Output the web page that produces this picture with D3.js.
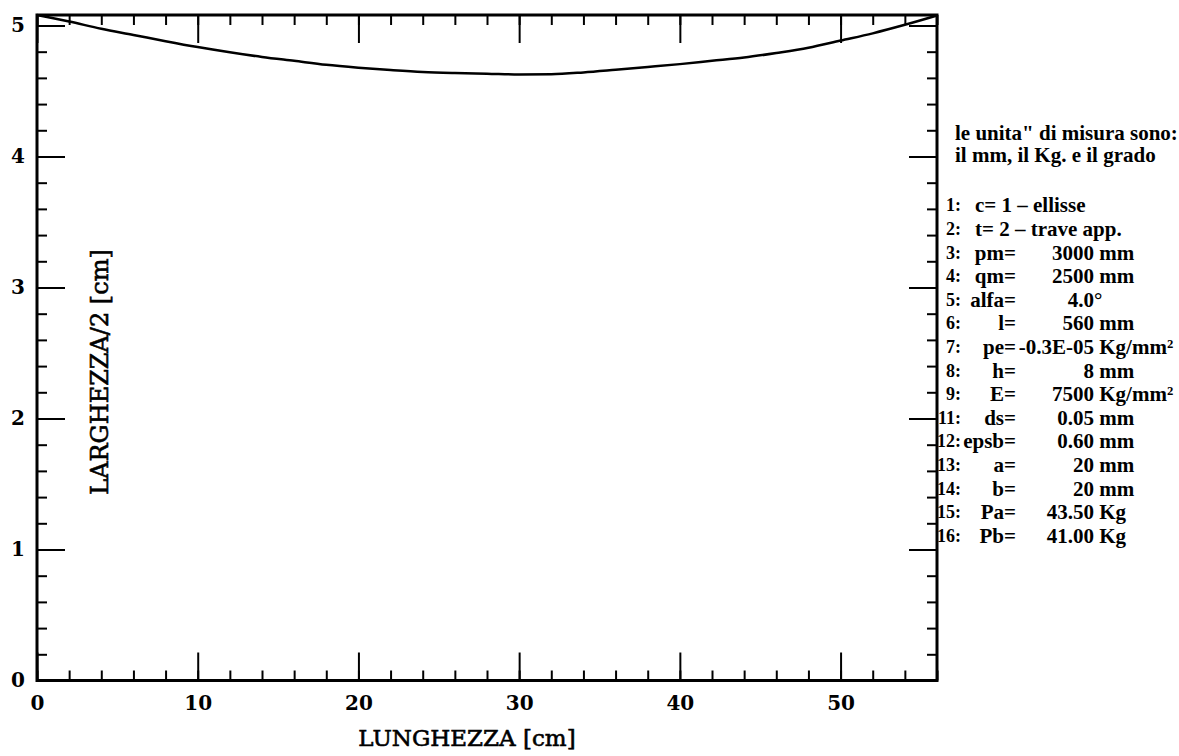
<!DOCTYPE html>
<html>
<head>
<meta charset="utf-8">
<script src="https://cdn.jsdelivr.net/npm/d3@7"></script>
<style>
  body { margin: 0; background: #fff; }
  svg { display: block; }
  .legend text { white-space: pre; }
</style>
</head>
<body>
<div class="canvas"></div>
<script>
// profilo della trave: lunghezza [cm] -> larghezza/2 [cm]
const lunghezza = [0, 2, 4, 6, 8, 10, 12, 14, 16, 18, 20, 22, 24, 26, 28, 30, 32, 34, 36, 38, 40, 42, 44, 46, 48, 50, 52, 54, 56];
const larghezza = [5.08, 5.03, 4.975, 4.928, 4.88, 4.835, 4.795, 4.76, 4.73, 4.70, 4.678, 4.66, 4.645, 4.637, 4.632, 4.626, 4.628, 4.642, 4.662, 4.683, 4.705, 4.73, 4.755, 4.79, 4.83, 4.885, 4.94, 5.005, 5.076];

const xMajorTicks = [0, 10, 20, 30, 40, 50];
const yMajorTicks = [0, 1, 2, 3, 4, 5];
const xMinorStep = 2;
const yMinorStep = 0.2;

const xTitle = "LUNGHEZZA [cm]";
const yTitle = "LARGHEZZA/2 [cm]";

const legendHead = ['le unita" di misura sono:', "il mm, il Kg. e il grado"];
const optionIds = ["1:", "2:"];
const optionTexts = ["c= 1 – ellisse", "t= 2 – trave app."];
const paramIds = ["3:", "4:", "5:", "6:", "7:", "8:", "9:", "11:", "12:", "13:", "14:", "15:", "16:"];
const paramNames = ["pm=", "qm=", "alfa=", "l=", "pe=", "h=", "E=", "ds=", "epsb=", "a=", "b=", "Pa=", "Pb="];
const paramValues = ["3000", "2500", "4.0", "560", "-0.3E-05", "8", "7500", "0.05", "0.60", "20", "20", "43.50", "41.00"];
const paramUnits = [" mm", " mm", "°", " mm", " Kg/mm²", " mm", " Kg/mm²", " mm", " mm", " mm", " mm", " Kg", " Kg"];

const width = 1179;
const height = 756;

const svg = d3
  .select(".canvas")
  .append("svg")
  .attr("width", width)
  .attr("height", height);

const graph = svg.append("g");

const xScale = d3.scaleLinear().domain([0, 56]).range([37, 937]);
const yScale = d3.scaleLinear().domain([0, 5.08]).range([680.5, 15]);

const serif = "'DejaVu Serif', 'Liberation Serif', serif";

function tickAxis(axis, tx, ty, values, size, withLabels) {
  const g = graph
    .append("g")
    .attr("transform", `translate(${tx},${ty})`)
    .call(
      axis
        .tickValues(values)
        .tickSize(size)
        .tickSizeOuter(0)
        .tickPadding(withLabels ? withLabels : 3)
        .tickFormat(withLabels ? d3.format("d") : "")
    );
  g.select(".domain").remove();
  g.selectAll("line").attr("stroke", "black").attr("stroke-width", 2);
  g.selectAll("text")
    .attr("fill", "black")
    .attr("font-family", serif)
    .attr("font-weight", "bold")
    .attr("font-size", 20);
  return g;
}

const xMinor = d3.range(0, 56 + 0.01, xMinorStep);
const yMinor = d3.range(0, 5 + 0.01, yMinorStep);
const x0 = xScale.range()[0];
const x1 = xScale.range()[1];
const y0 = yScale.range()[0];
const y1 = yScale.range()[1];

// minor ticks on all four sides
tickAxis(d3.axisBottom(xScale), 0, y0, xMinor, -10, 0);
tickAxis(d3.axisTop(xScale), 0, y1, xMinor, -10, 0);
tickAxis(d3.axisLeft(yScale), x0, 0, yMinor, -10, 0);
tickAxis(d3.axisRight(yScale), x1, 0, yMinor, -10, 0);

// major ticks (labels only bottom / left)
tickAxis(d3.axisBottom(xScale), 0, y0, xMajorTicks, -28, 15);
tickAxis(d3.axisTop(xScale), 0, y1, xMajorTicks, -28, 0);
tickAxis(d3.axisLeft(yScale), x0, 0, yMajorTicks, -28, 12);
tickAxis(d3.axisRight(yScale), x1, 0, yMajorTicks, -28, 0);

// frame
graph
  .append("rect")
  .attr("x", x0)
  .attr("y", y1)
  .attr("width", x1 - x0)
  .attr("height", y0 - y1)
  .attr("fill", "none")
  .attr("stroke", "black")
  .attr("stroke-width", 3);

// profile curve
const profile = d3
  .line()
  .x((d, i) => xScale(lunghezza[i]))
  .y((d) => yScale(d))
  .curve(d3.curveMonotoneX);

graph
  .append("path")
  .attr("d", profile(larghezza))
  .attr("fill", "none")
  .attr("stroke", "black")
  .attr("stroke-width", 2.5);

// axis titles
graph
  .append("text")
  .text(xTitle)
  .attr("x", 467)
  .attr("y", 746)
  .attr("text-anchor", "middle")
  .attr("font-family", serif)
  .attr("font-size", 23)
  .attr("fill", "black")
  .attr("stroke", "black")
  .attr("stroke-width", 0.6);

graph
  .append("text")
  .text(yTitle)
  .attr("transform", "translate(108,372) rotate(-90)")
  .attr("text-anchor", "middle")
  .attr("font-family", serif)
  .attr("font-size", 24)
  .attr("fill", "black")
  .attr("stroke", "black")
  .attr("stroke-width", 0.6);

// parameter legend
const legend = svg
  .append("g")
  .attr("class", "legend")
  .attr("font-family", "'Liberation Serif', serif")
  .attr("font-weight", "bold")
  .attr("font-size", 21)
  .attr("fill", "black");

const headY = [132.7, 155];
legendHead.forEach((line, i) => {
  legend
    .append("text")
    .text(line)
    .attr("x", 955)
    .attr("y", headY[i])
    .attr("dy", "0.35em");
});

const rowY = (i) => 205 + i * 23.6;

function rowId(id, y) {
  legend
    .append("text")
    .text(id)
    .attr("x", 961)
    .attr("y", y)
    .attr("dy", "0.35em")
    .attr("text-anchor", "end")
    .attr("font-size", 18);
}

optionIds.forEach((id, i) => {
  rowId(id, rowY(i));
  legend.append("text").text(optionTexts[i]).attr("x", 975).attr("y", rowY(i)).attr("dy", "0.35em");
});

paramIds.forEach((id, j) => {
  const y = rowY(j + optionIds.length);
  rowId(id, y);
  legend.append("text").text(paramNames[j]).attr("x", 1016).attr("y", y).attr("dy", "0.35em").attr("text-anchor", "end");
  legend.append("text").text(paramValues[j]).attr("x", 1094).attr("y", y).attr("dy", "0.35em").attr("text-anchor", "end");
  legend.append("text").text(paramUnits[j]).attr("x", 1094).attr("y", y).attr("dy", "0.35em");
});
</script>
</body>
</html>
